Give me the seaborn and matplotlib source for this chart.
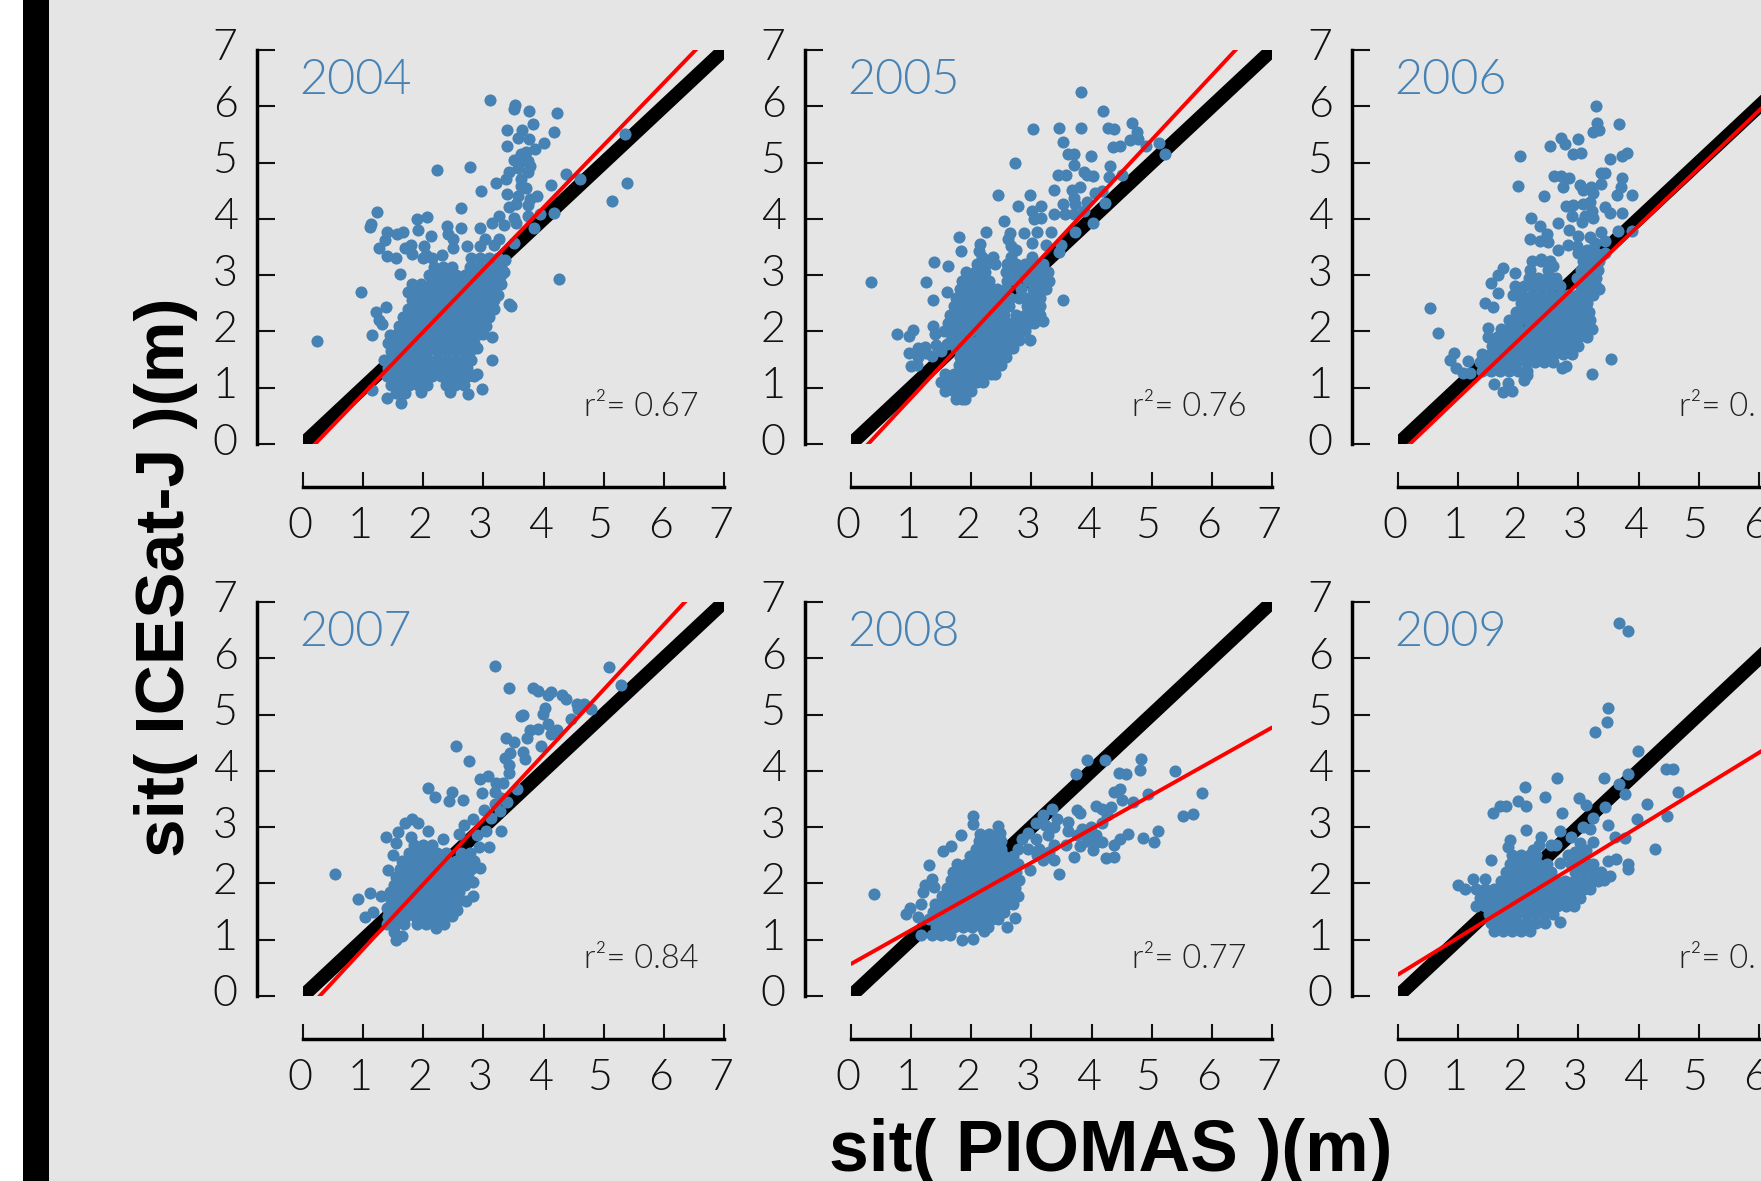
import matplotlib
matplotlib.use('Agg')
import matplotlib.pyplot as plt
import pandas as pd
import seaborn as sns
from matplotlib.patches import Rectangle
from matplotlib.transforms import ScaledTranslation

# Values
years = [2004, 2005, 2006, 2007, 2008, 2009]
r2_labels = ['r²= 0.67', 'r²= 0.76', 'r²= 0.', 'r²= 0.84', 'r²= 0.77', 'r²= 0.']
fit_slope = [1.106, 1.146, 1.02, 1.153, 0.60, 0.657]
fit_intercept = [-0.22, -0.327, -0.20, -0.32, 0.57, 0.38]
tick_values = [0, 1, 2, 3, 4, 5, 6, 7]
one_to_one = [0, 7]

# loose points, (piomas, icesat)
loose_2004 = [(.23,1.83),(.96,2.70),(1.23,4.13),(1.12,3.86),(1.13,3.9),(3.11,6.12),(3.52,6.02),(3.50,5.95),(3.75,5.91),(4.22,5.88),
    (3.82,5.68),(3.39,5.57),(3.64,5.57),(4.18,5.54),(3.58,5.44),(3.39,5.30),(3.76,5.41),(4.0,5.35),(5.35,5.51),(3.86,5.25),(2.23,4.87),(2.78,4.93),
    (3.62,5.16),(3.70,5.19),(3.62,5.03),(3.74,5.03),(3.5,5.05),(3.78,4.94),(3.58,4.91),(3.74,4.84),(3.42,4.84),(3.38,4.71),(3.62,4.71),(3.21,4.63),
    (3.62,4.58),(3.7,4.55),(2.96,4.49),(4.12,4.61),(4.38,4.80),(4.60,4.70),(5.38,4.63),(5.13,4.32),(3.39,4.44),(3.58,4.40),(3.78,4.35),(3.89,4.40),
    (3.42,4.21),(3.54,4.26),(3.74,4.24),(2.62,4.20),(4.18,4.11),(3.94,4.08),(1.89,4.0),(2.06,4.03),(3.26,4.05),(3.5,4.02),(3.74,4.05),(3.15,3.92),
    (2.40,3.88),(2.63,3.83),(2.95,3.84),(3.34,3.89),(3.54,3.92),(3.84,3.83),(1.91,3.81),(1.39,3.76),(1.57,3.73),(1.67,3.76),(1.37,3.63),(2.12,3.70),
    (2.41,3.73),(2.49,3.64),(3.02,3.64),(3.26,3.64),(3.5,3.57),(1.27,3.49),(1.69,3.49),(1.79,3.54),(2.01,3.51),(2.49,3.49),(2.73,3.51),(2.94,3.51),
    (3.18,3.54),(1.39,3.34),(1.55,3.31),(1.81,3.38),(2.05,3.35),(2.31,3.35),(3.36,3.27),(4.25,2.94),(1.61,3.02),(3.46,2.46),(3.42,2.49),(1.38,2.43),
    (1.22,2.34),(1.27,2.21),(1.31,2.13),(1.14,1.94),(1.45,1.94),(1.41,1.80),(3.15,1.90),(3.14,1.50),(2.90,1.70),(2.9,1.24),(2.98,.98),(2.74,.89),
    (1.39,.81),(1.15,.96),(1.63,.72),(1.97,.92),(2.44,.92),(3.35,3.05),(3.3,2.85),(3.25,2.65)]
blob_y_2004 = [.9,1.05,1.2,1.35,1.5,1.65,1.8,1.95,2.1,2.25,2.4,2.55,2.7,2.85,3.0,3.15,3.3]
blob_x_2004 = [[1.55,1.7],
    [1.47,1.62,1.77,1.92,2.07,2.37,2.52,2.67],
    [1.4,1.55,1.7,1.85,2.0,2.15,2.3,2.45,2.6,2.75,2.85],
    [1.42,1.57,1.72,1.87,2.02,2.17,2.32,2.47,2.62,2.72],
    [1.35,1.5,1.65,1.8,1.95,2.1,2.25,2.4,2.55,2.7,2.8],
    [1.47,1.62,1.77,1.92,2.07,2.22,2.37,2.52,2.67,2.77],
    [1.5,1.65,1.8,1.95,2.1,2.25,2.4,2.55,2.7,2.85],
    [1.57,1.72,1.87,2.02,2.17,2.32,2.47,2.62,2.77,2.92,3.0],
    [1.6,1.75,1.9,2.05,2.2,2.35,2.5,2.65,2.8,2.95,3.05],
    [1.67,1.82,1.97,2.12,2.27,2.42,2.57,2.72,2.87,3.02,3.1],
    [1.75,1.9,2.05,2.2,2.35,2.5,2.65,2.8,2.95,3.1,3.17],
    [1.82,1.97,2.12,2.27,2.42,2.57,2.72,2.87,3.02,3.17],
    [1.75,1.9,2.05,2.2,2.35,2.5,2.65,2.8,2.95,3.1,3.2],
    [1.82,1.97,2.12,2.27,2.42,2.57,2.72,2.87,3.02,3.17,3.25],
    [2.1,2.25,2.4,2.55,2.7,2.85,3.0,3.15,3.3],
    [2.17,2.32,2.47,2.77,2.92,3.07,3.22,3.3],
    [2.0,2.15,2.8,2.95,3.1,3.25]]

loose_2005 = [(.33,2.88),(3.82,6.25),(4.19,5.92),(3.02,5.60),(3.46,5.62),(3.83,5.62),(4.28,5.62),(4.38,5.60),(4.67,5.70),(4.76,5.55),(4.64,5.40),
    (4.78,5.41),(4.91,5.30),(5.12,5.34),(5.22,5.16),(3.52,5.36),(4.35,5.27),(4.47,5.30),(3.61,5.16),(3.70,5.16),(3.70,4.96),(3.99,5.12),(2.73,4.99),
    (4.30,4.94),(3.44,4.78),(3.58,4.78),(3.87,4.84),(3.93,4.78),(4.02,4.76),(4.29,4.75),(4.50,4.78),(3.81,4.57),(3.37,4.51),(3.67,4.51),(2.98,4.42),
    (2.44,4.42),(4.05,4.46),(4.17,4.49),(3.70,4.37),(2.78,4.23),(3.16,4.23),(3.52,4.26),(3.72,4.27),(3.93,4.30),(4.23,4.28),(3.01,4.14),(3.37,4.09),
    (3.55,4.08),(3.70,4.08),(3.87,4.14),(3.16,4.02),(3.04,4.0),(2.54,3.97),(4.03,3.93),(2.24,3.76),(2.64,3.75),(2.88,3.75),(3.09,3.76),(3.33,3.76),
    (3.72,3.76),(1.80,3.67),(2.61,3.65),(2.15,3.56),(2.66,3.51),(3.01,3.57),(3.25,3.54),(3.49,3.54),(1.83,3.43),(2.12,3.43),(2.75,3.45),(3.46,3.41),
    (3.01,3.32),(1.38,3.24),(1.61,3.16),(2.18,3.32),(2.36,3.32),(2.66,3.32),(1.25,2.87),(1.60,2.70),(1.36,2.55),(3.52,2.56),(3.19,2.18),(2.97,1.85),
    (.77,1.95),(.97,1.92),(1.03,2.02),(1.36,2.10),(1.40,1.95),(1.12,1.70),(.97,1.61),(1.23,1.72),(1.41,1.76),(1.59,1.78),(1.12,1.54),(1.0,1.38),
    (1.09,1.41),(1.35,1.57),(1.5,1.65),(1.25,1.62)]
blob_y_2005 = [.8,.95,1.1,1.25,1.4,1.55,1.7,1.85,2.0,2.15,2.3,2.45,2.6,2.75,2.9,3.05,3.2]
blob_x_2005 = [[1.75,1.85,1.9],
    [1.57,1.72,1.87,2.0],
    [1.5,1.65,1.8,1.95,2.1,2.2],
    [1.57,1.72,1.87,2.02,2.17,2.32,2.4],
    [1.8,1.95,2.1,2.25,2.4,2.5],
    [1.82,1.97,2.12,2.27,2.42,2.57],
    [1.75,1.9,2.05,2.2,2.35,2.5,2.65,2.7],
    [1.67,1.82,1.97,2.12,2.27,2.42,2.57,2.72,2.8],
    [1.55,1.7,1.85,2.0,2.15,2.3,2.45,2.6,2.75,2.9],
    [1.62,1.77,1.92,2.07,2.22,2.37,2.52,2.67,2.82,2.97,3.05],
    [1.65,1.8,1.95,2.1,2.25,2.4,2.55,2.75,2.9,3.05,3.15],
    [1.72,1.87,2.02,2.17,2.32,2.47,2.62,2.92,3.07,3.15],
    [1.75,1.9,2.05,2.2,2.35,2.5,2.65,2.8,2.95,3.1,3.15],
    [1.82,1.97,2.12,2.27,2.42,2.57,2.82,3.02,3.17,3.25],
    [1.85,2.0,2.15,2.3,2.6,2.75,2.95,3.1,3.25,3.3],
    [1.92,2.07,2.22,2.57,2.72,2.87,3.02,3.17,3.28],
    [2.1,2.25,2.4,2.6,2.75,2.9,3.05,3.2]]

loose_2006 = [(3.30,6.0),(3.31,5.70),(3.24,5.55),(3.35,5.57),(3.68,5.68),(2.71,5.43),(2.77,5.33),(2.99,5.42),(2.52,5.30),(2.91,5.16),(3.05,5.17),
    (2.03,5.11),(3.53,5.06),(3.73,5.11),(3.81,5.17),(3.38,4.81),(3.44,4.82),(2.59,4.76),(2.71,4.77),(2.85,4.73),(3.73,4.73),(2.0,4.59),(2.74,4.57),
    (3.02,4.61),(3.07,4.52),(3.21,4.56),(3.38,4.62),(3.71,4.56),(2.43,4.40),(3.24,4.46),(3.64,4.42),(3.89,4.43),(3.19,4.30),(2.80,4.22),(2.91,4.24),
    (3.08,4.26),(3.44,4.21),(3.22,4.14),(3.53,4.10),(3.73,4.10),(2.21,4.02),(2.90,4.05),(3.11,4.05),(3.24,4.02),(3.06,3.94),(2.66,3.93),(2.36,3.87),
    (2.84,3.81),(2.47,3.73),(3.66,3.78),(3.89,3.78),(3.38,3.76),(2.19,3.64),(2.36,3.60),(2.50,3.58),(2.99,3.70),(3.19,3.67),(2.83,3.53),(2.66,3.45),
    (2.97,3.51),(3.44,3.60),(3.27,3.57),(2.22,3.25),(2.38,3.29),(2.58,3.16),(1.75,3.13),(1.66,3.0),(1.94,3.03),(1.55,2.86),(1.66,2.68),(1.44,2.51),
    (1.58,2.43),(.53,2.42),(.67,1.97),(1.50,2.06),(.93,1.62),(.86,1.50),(.97,1.35),(1.16,1.48),(1.08,1.26),(1.19,1.26),(3.54,1.51),(3.23,1.24),
    (1.59,1.07),(1.75,.93),(1.90,.94),(1.83,1.09),(2.09,1.13),(2.14,1.22),(2.72,1.35),(2.80,1.38),(3.3,2.95),(3.35,2.75),(3.4,3.35),(3.15,3.45)]
blob_y_2006 = [1.3,1.45,1.6,1.75,1.9,2.05,2.2,2.35,2.5,2.65,2.8,2.95,3.1,3.25,3.4]
blob_x_2006 = [[1.4,1.55,1.7,1.85,2.0,2.15],
    [1.37,1.52,1.67,1.82,1.97,2.12,2.27,2.42,2.57],
    [1.4,1.55,1.7,1.85,2.0,2.15,2.3,2.45,2.6,2.75,2.9],
    [1.57,1.72,1.87,2.02,2.17,2.32,2.47,2.62,2.77,2.92,3.0],
    [1.5,1.65,1.8,1.95,2.1,2.25,2.4,2.55,2.7,2.85,3.0,3.15],
    [1.72,1.87,2.02,2.17,2.32,2.47,2.62,2.77,2.92,3.07,3.22],
    [1.85,2.0,2.15,2.3,2.45,2.6,2.75,2.9,3.05,3.2],
    [1.97,2.12,2.27,2.42,2.57,2.72,2.87,3.02,3.17],
    [2.05,2.2,2.35,2.5,2.65,2.8,2.95,3.1,3.15],
    [1.92,2.07,2.22,2.37,2.52,2.67,2.82,2.97,3.12,3.25],
    [1.95,2.1,2.25,2.4,2.55,2.7,3.05,3.2,3.3],
    [2.17,2.32,2.47,2.62,2.97,3.12,3.27],
    [2.2,2.5,3.05,3.2,3.33],
    [2.37,2.52,3.07,3.22,3.35],
    [3.0,3.15,3.3,3.45]]

loose_2007 = [(3.20,5.86),(5.08,5.84),(5.29,5.53),(3.43,5.48),(3.83,5.47),(3.90,5.41),(4.12,5.40),(4.07,5.34),(4.31,5.34),(4.37,5.28),(4.55,5.19),
    (4.67,5.19),(4.79,5.10),(4.58,5.10),(4.03,5.12),(3.99,5.01),(3.66,4.99),(3.62,4.97),(4.46,4.93),(4.07,4.83),(3.90,4.74),(3.78,4.72),(4.22,4.72),
    (4.13,4.66),(3.72,4.59),(3.38,4.59),(3.51,4.52),(2.54,4.45),(3.96,4.45),(3.66,4.34),(3.45,4.31),(3.36,4.22),(3.69,4.21),(2.76,4.17),(3.42,4.10),
    (3.42,3.97),(3.07,3.91),(2.95,3.86),(3.21,3.79),(3.33,3.79),(2.08,3.70),(2.47,3.62),(2.98,3.61),(2.19,3.54),(2.43,3.46),(2.66,3.48),(3.56,3.68),
    (3.19,3.62),(3.30,3.52),(3.39,3.45),(3.19,3.41),(3.01,3.31),(3.27,3.28),(3.13,3.17),(2.83,3.14),(2.68,3.03),(3.29,2.93),(3.04,2.93),(2.59,2.88),
    (2.89,2.86),(1.82,3.15),(1.70,3.07),(1.92,3.08),(2.08,2.93),(1.38,2.83),(1.58,2.92),(1.79,2.83),(1.54,2.72),(2.33,2.79),(3.10,2.64),(2.92,2.64),
    (1.49,2.50),(1.41,2.24),(2.95,2.28),(2.83,2.03),(.53,2.17),(1.11,1.83),(1.29,1.77),(.92,1.72),(1.17,1.50),(1.03,1.41),(2.82,1.77),(2.71,1.69),
    (2.56,1.53),(2.21,1.21),(1.54,.99),(1.64,1.07),(1.52,1.14)]
blob_y_2007 = [1.28,1.42,1.56,1.7,1.84,1.98,2.12,2.26,2.4,2.54,2.68]
blob_x_2007 = [[1.4,1.55,1.68,1.9,2.05,2.2,2.35],
    [1.42,1.57,1.72,1.87,2.02,2.17,2.32,2.47],
    [1.4,1.55,1.7,1.85,2.0,2.15,2.3,2.45,2.55],
    [1.47,1.62,1.77,1.92,2.07,2.22,2.37,2.52,2.6],
    [1.45,1.6,1.75,1.9,2.05,2.2,2.35,2.5,2.6],
    [1.52,1.67,1.82,1.97,2.12,2.27,2.42,2.57,2.7],
    [1.55,1.7,1.85,2.0,2.15,2.3,2.45,2.6,2.75],
    [1.62,1.77,1.92,2.07,2.22,2.37,2.52,2.67,2.8],
    [1.65,1.8,1.95,2.1,2.25,2.4,2.55,2.7,2.85],
    [1.77,1.92,2.07,2.22,2.37,2.62,2.77],
    [1.85,2.0,2.15]]

loose_2008 = [(.39,1.82),(3.93,4.19),(4.23,4.20),(3.74,3.95),(4.82,4.21),(4.80,4.02),(5.39,3.99),(4.45,3.97),(4.58,3.95),(5.83,3.61),(4.47,3.68),
    (4.38,3.62),(4.93,3.59),(4.50,3.48),(4.69,3.45),(5.68,3.23),(5.52,3.19),(5.10,2.94),(5.03,2.74),(4.85,2.81),(4.60,2.88),(4.47,2.79),(4.37,2.69),
    (4.38,2.47),(4.24,2.46),(4.18,2.74),(4.03,2.59),(3.71,2.47),(3.35,3.33),(3.19,3.21),(3.07,3.08),(3.75,3.31),(3.80,3.26),(4.07,3.37),(4.17,3.33),
    (4.32,3.36),(4.26,3.21),(4.17,3.07),(3.99,3.0),(3.84,2.97),(3.61,3.10),(3.43,3.14),(3.61,2.94),(3.75,2.86),(3.93,2.86),(4.08,2.86),(3.58,2.69),
    (3.81,2.66),(3.37,2.69),(3.28,2.86),(3.37,3.0),(3.22,3.03),(2.95,2.90),(2.84,2.79),(3.07,2.79),(3.13,2.62),(2.95,2.62),(2.78,2.62),(3.19,2.41),
    (3.37,2.41),(3.46,2.17),(2.98,2.23),(2.03,3.19),(2.03,3.06),(2.45,3.02),(1.83,2.86),(2.48,2.90),(1.67,2.66),(1.53,2.57),(1.29,2.33),(1.35,2.07),
    (1.23,1.98),(1.19,1.84),(1.38,1.93),(1.17,1.63),(.98,1.57),(.91,1.45),(1.12,1.41),(1.16,1.09),(2.72,1.39),(2.60,1.23),(2.03,1.02),(1.84,.99),
    (2.21,1.15),(4.05,2.72),(3.92,2.75),(3.3,2.55),(3.1,2.5)]
blob_y_2008 = [1.08,1.22,1.36,1.5,1.64,1.78,1.92,2.06,2.2,2.34,2.48,2.62,2.76,2.88]
blob_x_2008 = [[1.35,1.5,1.65],
    [1.42,1.57,1.72,1.87,2.02,2.17,2.28],
    [1.3,1.45,1.6,1.75,1.9,2.05,2.2,2.35,2.45],
    [1.37,1.52,1.67,1.82,1.97,2.12,2.27,2.42,2.55],
    [1.4,1.55,1.7,1.85,2.0,2.15,2.3,2.45,2.6,2.7],
    [1.52,1.67,1.82,1.97,2.12,2.27,2.42,2.57,2.72,2.77],
    [1.6,1.75,1.9,2.05,2.2,2.35,2.5,2.65,2.72],
    [1.67,1.82,1.97,2.12,2.27,2.42,2.57,2.72,2.8],
    [1.7,1.85,2.0,2.15,2.3,2.45,2.6,2.75],
    [1.77,1.92,2.07,2.22,2.37,2.52,2.67,2.78],
    [1.98,2.12,2.25,2.4,2.55,2.7],
    [2.08,2.22,2.36,2.5],
    [2.12,2.26,2.4,2.5],
    [2.15,2.3,2.45]]

loose_2009 = [(3.67,6.62),(3.82,6.48),(3.49,5.11),(3.47,4.86),(3.27,4.69),(3.99,4.36),(4.46,4.04),(4.58,4.04),(3.82,3.94),(3.42,3.88),(2.64,3.88),
    (2.11,3.72),(3.67,3.76),(4.66,3.63),(3.77,3.59),(2.45,3.53),(3.01,3.52),(1.99,3.46),(2.13,3.38),(3.13,3.39),(4.14,3.41),(3.45,3.35),(1.58,3.26),
    (1.69,3.37),(1.80,3.37),(2.73,3.26),(4.47,3.19),(3.24,3.17),(3.98,3.14),(3.49,3.03),(3.07,3.0),(3.19,2.97),(2.13,2.95),(2.69,2.94),(2.87,2.83),
    (2.38,2.82),(3.60,2.83),(3.77,2.81),(1.87,2.78),(3.24,2.74),(4.28,2.61),(2.63,2.68),(2.55,2.68),(1.83,2.64),(2.24,2.60),(3.02,2.72),(2.94,2.55),
    (3.13,2.59),(2.05,2.47),(2.69,2.37),(3.63,2.43),(3.49,2.39),(3.82,2.34),(3.83,2.26),(1.55,2.41),(1.25,2.08),(1.44,2.07),(1.0,1.98),(1.11,1.90),
    (2.69,1.31),(3.52,2.14),(3.43,2.06),(2.35,2.68),(2.2,2.5)]
blob_y_2009 = [1.15,1.3,1.45,1.6,1.75,1.9,2.05,2.2,2.35,2.5]
blob_x_2009 = [[1.6,1.75,1.9,2.05,2.2],
    [1.55,1.7,1.85,2.0,2.15,2.3,2.45],
    [1.52,1.67,1.82,1.97,2.12,2.27,2.42,2.57],
    [1.3,1.45,1.6,1.75,1.9,2.05,2.2,2.35,2.5,2.65,2.8,2.92],
    [1.37,1.52,1.67,1.82,1.97,2.12,2.27,2.42,2.57,2.72,2.87,3.02],
    [1.3,1.45,1.6,1.75,1.9,2.05,2.2,2.35,2.5,2.65,2.8,2.95,3.1,3.2],
    [1.72,1.87,2.02,2.17,2.32,2.47,2.62,2.77,2.92,3.07,3.22,3.32],
    [1.8,1.95,2.1,2.25,2.4,2.55,2.95,3.1,3.25,3.38],
    [1.87,2.02,2.17,2.32,2.47,2.87,3.02,3.17,3.25],
    [1.9,2.05,2.2,2.3,2.82,2.95,3.1]]

loose = [loose_2004, loose_2005, loose_2006, loose_2007, loose_2008, loose_2009]
blob_y = [blob_y_2004, blob_y_2005, blob_y_2006, blob_y_2007, blob_y_2008, blob_y_2009]
blob_x = [blob_x_2004, blob_x_2005, blob_x_2006, blob_x_2007, blob_x_2008, blob_x_2009]

W, H = 1761, 1181
GREY = '#e5e5e5'
BLUE = '#4682b4'

sns.set_theme(style='white', rc={'axes.facecolor': 'none', 'figure.facecolor': GREY})
plt.rcParams['font.family'] = ['Lato', 'DejaVu Sans']
plt.rcParams['font.weight'] = 300

fig = plt.figure(figsize=(W / 100, H / 100), dpi=100)

# margin strips on the left
fig.add_artist(Rectangle((0, 0), 23 / W, 1, transform=fig.transFigure, color='white', lw=0))
fig.add_artist(Rectangle((23 / W, 0), 26 / W, 1, transform=fig.transFigure, color='black', lw=0))

lefts = [303, 851, 1398]
tops = [50, 602]
for i, year in enumerate(years):
    left = lefts[i % 3]
    top = tops[i // 3]
    ax = fig.add_axes([left / W, 1 - (top + 394) / H, 421 / W, 394 / H])

    rows = pd.DataFrame(loose[i], columns=['piomas', 'icesat'])
    blob = pd.DataFrame([(x, y) for y, xs in zip(blob_y[i], blob_x[i]) for x in xs],
                        columns=['piomas', 'icesat'])
    df = pd.concat([rows, blob])

    sns.lineplot(x=one_to_one, y=one_to_one, ax=ax, color='black', linewidth=10,
                 solid_capstyle='projecting', zorder=1)
    sns.scatterplot(data=df, x='piomas', y='icesat', ax=ax, color=BLUE, s=76,
                    linewidth=0, zorder=2, clip_on=False)
    fit_y = [fit_intercept[i] + fit_slope[i] * x for x in one_to_one]
    sns.lineplot(x=one_to_one, y=fit_y, ax=ax, color='red', linewidth=2.8, zorder=3)

    ax.set_xlim(0, 7)
    ax.set_ylim(0, 7)
    ax.set_xticks(tick_values)
    ax.set_yticks(tick_values)
    ax.set_xlabel('')
    ax.set_ylabel('')
    ax.grid(False)
    sns.despine(ax=ax, offset={'left': 33, 'bottom': 31})
    for side in ['left', 'bottom']:
        ax.spines[side].set_linewidth(2.5)
        ax.spines[side].set_color('black')
    ax.tick_params(axis='y', direction='in', left=True, length=13, width=1.5, pad=14,
                   labelsize=31, colors='#111111')
    ax.tick_params(axis='x', direction='in', bottom=True, length=11, width=1.5, pad=14,
                   labelsize=31, colors='#111111')
    # labels sit a little off their ticks
    for lab in ax.get_xticklabels():
        lab.set_transform(lab.get_transform() + ScaledTranslation(-3 / 100, 0, fig.dpi_scale_trans))
    for lab in ax.get_yticklabels():
        lab.set_transform(lab.get_transform() + ScaledTranslation(0, 5 / 100, fig.dpi_scale_trans))

    ax.text(-0.06, 6.22, str(year), color=BLUE, fontsize=35, va='baseline', ha='left')
    ax.text(4.68, 0.5, r2_labels[i], color='#222222', fontsize=23.5, va='baseline', ha='left',
            clip_on=False)

fig.text(166 / W, 1 - 577 / H, 'sit( ICESat-J )(m)', rotation=90, ha='center', va='center',
         family=['Liberation Sans', 'DejaVu Sans'], weight='bold', fontsize=50, color='black')
fig.text(1111 / W, 1 - 1152 / H, 'sit( PIOMAS )(m)', ha='center', va='center',
         family=['Liberation Sans', 'DejaVu Sans'], weight='bold', fontsize=51.5, color='black')

fig.savefig('out.png', dpi=100, facecolor=GREY)
